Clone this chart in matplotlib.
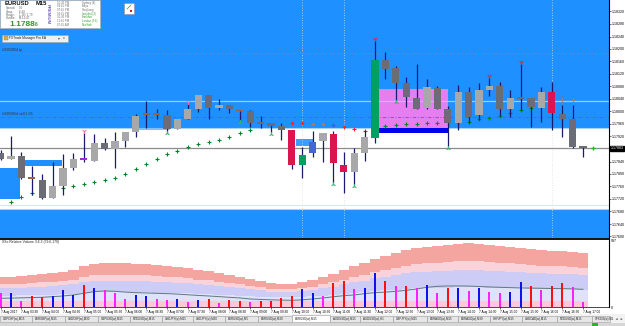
#!/usr/bin/env python3
"""MT4-style EURUSD M15 chart with zones, SAR dots and a relative volume pane."""

import matplotlib

matplotlib.use("Agg")
import matplotlib.pyplot as plt
import numpy as np
from matplotlib.patches import Rectangle

plt.rcParams["font.family"] = ["Liberation Sans", "DejaVu Sans"]

W, H = 625, 326

# ---- EURUSD M15 bars ----
OPEN = [1.17867, 1.17848, 1.17858, 1.17790, 1.17781, 1.17723, 1.17762, 1.17819, 1.17848, 1.17842,
        1.17899, 1.17880, 1.17906, 1.17934, 1.17992, 1.17992, 1.17989, 1.17944, 1.17976, 1.18008,
        1.18053, 1.18011, 1.18021, 1.18002, 1.18002, 1.17966, 1.17963, 1.17954, 1.17941, 1.17829,
        1.17867, 1.17906, 1.17928, 1.17829, 1.17806, 1.17867, 1.17915, 1.18165, 1.18139, 1.18091,
        1.18043, 1.18011, 1.18075, 1.18008, 1.17963, 1.18062, 1.17989, 1.18069, 1.18082, 1.18008,
        1.18043, 1.18043, 1.18011, 1.18062, 1.17992, 1.17976, 1.17886]
HIGH = [1.17877, 1.17922, 1.17870, 1.17826, 1.17800, 1.17838, 1.17864, 1.17867, 1.17934, 1.17928,
        1.17915, 1.17934, 1.17934, 1.17992, 1.18034, 1.18008, 1.18005, 1.17976, 1.18027, 1.18053,
        1.18053, 1.18040, 1.18021, 1.18002, 1.18005, 1.17986, 1.17963, 1.17963, 1.17941, 1.17886,
        1.17938, 1.17931, 1.17938, 1.17870, 1.17883, 1.17941, 1.18229, 1.18190, 1.18146, 1.18110,
        1.18152, 1.18104, 1.18082, 1.18018, 1.18085, 1.18078, 1.18091, 1.18110, 1.18094, 1.18069,
        1.18155, 1.18043, 1.18078, 1.18094, 1.18021, 1.18021, 1.17886]
LOW = [1.17845, 1.17848, 1.17784, 1.17733, 1.17720, 1.17723, 1.17733, 1.17813, 1.17838, 1.17842,
       1.17877, 1.17819, 1.17886, 1.17918, 1.17947, 1.17976, 1.17931, 1.17944, 1.17976, 1.17998,
       1.17976, 1.18005, 1.17995, 1.17966, 1.17950, 1.17947, 1.17931, 1.17909, 1.17816, 1.17787,
       1.17854, 1.17838, 1.17771, 1.17739, 1.17765, 1.17842, 1.17899, 1.18104, 1.18030, 1.18014,
       1.18008, 1.18008, 1.18008, 1.17886, 1.17941, 1.17963, 1.17973, 1.18050, 1.17986, 1.17982,
       1.18005, 1.17950, 1.17966, 1.17941, 1.17918, 1.17883, 1.17854]
CLOSE = [1.17848, 1.17858, 1.17787, 1.17784, 1.17723, 1.17762, 1.17819, 1.17848, 1.17846, 1.17899,
         1.17880, 1.17906, 1.17934, 1.17986, 1.17990, 1.17990, 1.17944, 1.17976, 1.18008, 1.18053,
         1.18011, 1.18021, 1.18008, 1.18000, 1.17963, 1.17960, 1.17954, 1.17941, 1.17829, 1.17861,
         1.17902, 1.17931, 1.17835, 1.17806, 1.17867, 1.17918, 1.18165, 1.18136, 1.18091, 1.18046,
         1.18008, 1.18078, 1.18008, 1.17963, 1.18062, 1.17982, 1.18069, 1.18082, 1.18008, 1.18043,
         1.18041, 1.18014, 1.18062, 1.17995, 1.17976, 1.17886, 1.17883]
# D dark, L light, N brown doji, P purple doji, R red, G green, B blue
KIND = "DLDNDLLLPL" "DLLLNNDLLL" "DLDNDDDDRG" "BLRRLLGDDD" "DLDDLDLLDL" "DDLRDDD"

SAR_LOW = [None, 1.17710, 1.17726, 1.17739, None, None, 1.17755, 1.17762, 1.17768, 1.17774,
           1.17781, 1.17787, 1.17800, 1.17816, 1.17832, 1.17848, 1.17864, 1.17874, 1.17886, 1.17896,
           1.17902, 1.17909, 1.17918, 1.17931, 1.17941, None, None, None, None, None,
           None, None, None, None, None, None, None, 1.17954, 1.17957, 1.17960,
           1.17960, 1.17963, 1.17963, None, 1.17966, 1.17966, 1.17976, 1.17979, 1.17986, 1.17995,
           1.18005, 1.18011, None, None, None, None, None]
SAR_HIGH = ([None] * 28
            + [1.17963, 1.17963, 1.17960, 1.17960, 1.17957, 1.17950, 1.17944, 1.17938]
            + [None] * 18 + [1.18037, 1.18037, None])
SAR_HIGH_GRAY = [30, 31, 54, 55]

TOP_ARROW_BARS = [8, 18, 36, 47, 50]
TOP_ARROW_PRICES = [1.17938, 1.18030, 1.18232, 1.18114, 1.18158]
TOP_ARROW_COLORS = ["#ff6fb0", "#ff6fb0", "#e8203c", "#e8203c", "#e8203c"]
BOTTOM_ARROW_BARS = [16, 23, 26, 32, 34, 38, 43]
BOTTOM_ARROW_PRICES = [1.17931, 1.17966, 1.17928, 1.17768, 1.17762, 1.18030, 1.17883]

# zones: bar from, bar to, price low, price high
ZONE_BARS = [(-1, 1.86), (1.86, 5.9), (13.1, 16.3), (28.4, 30.05), (36.4, 43.0), (36.4, 43.0)]
ZONE_PRICES = [(1.17720, 1.17819), (1.17826, 1.17845), (1.17941, 1.17947),
               (1.17890, 1.17912), (1.17947, 1.18072), (1.17931, 1.17947)]
ZONE_COLORS = ["#1e90ff", "#1e90ff", "#7ec0ff", "#3c9cff", "#e67ef0", "#0000f0"]
UPPER_ZONE_FLOOR = 1.17947
LOWER_ZONE_CEIL = 1.17688

TP_LEVEL = 1.18187
SELL_LEVEL = 1.17982
LIGHT_LEVEL = 1.18034
LOWER_LIGHT_LEVEL = 1.17701
LAST_PRICE = 1.17883
SEPARATOR_BARS = [29, 33, 53]

PRICE_TICKS = [1.18320, 1.18280, 1.18240, 1.18200, 1.18160, 1.18120, 1.18080, 1.18040, 1.18000,
               1.17960, 1.17920, 1.17840, 1.17800, 1.17760, 1.17720, 1.17680, 1.17640, 1.17600]
PRICE_MIN, PRICE_MAX = 1.175968, 1.183568

# ---- relative volume pane ----
VOLUME = [215, 215, 99, 174, 159, 174, 260, 185, 335, 294,
          260, 210, 125, 185, 174, 125, 110, 125, 80, 110,
          125, 65, 110, 99, 84, 99, 90, 135, 170, 270,
          210, 170, 360, 399, 270, 285, 519, 395, 320, 320,
          294, 335, 210, 285, 285, 245, 285, 234, 210, 234,
          375, 320, 260, 320, 360, 300, 84]
VOL_KIND = "MBMRRBBBRB" "MMMBBMMBMB" "RMRRMRRRRB" "BMRRMBBRMR" "MBMRBMBMMB" "BRMRRMM"
VOL_MA = [135, 138, 142, 146, 150, 159, 170, 185, 210, 235,
          245, 240, 228, 220, 215, 210, 205, 198, 188, 178,
          170, 160, 150, 140, 125, 118, 112, 108, 105, 112,
          125, 140, 158, 175, 185, 205, 220, 228, 240, 255,
          275, 300, 315, 320, 320, 318, 312, 305, 300, 295,
          290, 288, 285, 282, 280, 276, 270]
BAND_TOP = [455, 455, 470, 485, 500, 515, 530, 560, 620, 650,
            665, 665, 665, 650, 650, 635, 620, 605, 590, 560,
            545, 515, 485, 455, 425, 395, 365, 350, 350, 380,
            410, 455, 500, 560, 620, 665, 725, 770, 815, 860,
            890, 905, 920, 935, 950, 965, 950, 935, 920, 905,
            890, 875, 860, 845, 845, 830, 815]
BAND_PINK = [343, 343, 353, 364, 374, 385, 395, 416, 458, 479,
             490, 490, 490, 479, 479, 469, 458, 448, 437, 416,
             406, 385, 364, 343, 322, 301, 280, 269, 269, 290,
             311, 343, 374, 416, 458, 490, 532, 563, 595, 626,
             647, 658, 668, 679, 689, 700, 689, 679, 668, 658,
             647, 637, 626, 616, 616, 605, 595]
BAND_LAVENDER = [286, 286, 295, 303, 311, 319, 328, 344, 377, 394,
                 402, 402, 402, 394, 394, 385, 377, 369, 361, 344,
                 336, 319, 303, 286, 270, 253, 237, 229, 229, 245,
                 262, 286, 311, 344, 377, 402, 435, 460, 484, 509,
                 526, 534, 542, 550, 559, 567, 559, 550, 542, 534,
                 526, 517, 509, 501, 501, 493, 484]
BAND_PALE = [174, 174, 178, 181, 185, 189, 193, 200, 215, 223,
             226, 226, 226, 223, 223, 219, 215, 211, 208, 200,
             196, 189, 181, 174, 166, 159, 151, 148, 148, 155,
             163, 174, 185, 200, 215, 226, 241, 253, 264, 275,
             283, 286, 290, 294, 298, 301, 298, 294, 290, 286,
             283, 279, 275, 271, 271, 268, 264]
BAND_FLOOR = 90
VOL_MAX = 1024.5

TIME_LABELS = ["7 Aug 2017", "7 Aug 03:30", "7 Aug 04:00", "7 Aug 04:30", "7 Aug 05:00",
               "7 Aug 05:30", "7 Aug 06:00", "7 Aug 06:30", "7 Aug 07:00", "7 Aug 07:30",
               "7 Aug 08:00", "7 Aug 08:30", "7 Aug 09:00", "7 Aug 09:30", "7 Aug 10:00",
               "7 Aug 10:30", "7 Aug 11:00", "7 Aug 11:30", "7 Aug 12:00", "7 Aug 12:30",
               "7 Aug 13:00", "7 Aug 13:30", "7 Aug 14:00", "7 Aug 14:30", "7 Aug 15:00",
               "7 Aug 15:30", "7 Aug 16:00", "7 Aug 16:30", "7 Aug 17:00"]

TAB_LABELS = ["GBPCHF(w),M15", "EURGBP(w),M15", "USDCHF(w),M30", "GBPUSD(w),M15",
              "NZDUSD(w),M15", "USDJPY(w),M15", "USDJPY(w),M30", "EURUSD(w),M5",
              "EURUSD(w),M30", "EURUSD(w),M15", "AUDUSD(w),M15", "AUDUSD(w),H1",
              "GBPJPY(w),M15", "EURAUD(w),M15", "EURAUD(w),M30", "CHFJPY(w),M15",
              "USDCAD(w),M15", "NZDUSD(w),M15", "SPX500(w),M1"]
TAB_EDGES = [0, 32, 65, 98, 130, 162, 193, 225, 258, 292, 330, 360, 393, 427, 458, 490,
             522, 557, 592, 610]
ACTIVE_TAB = 9

INFO_NAMES = ["Spread:", "Swap:", "Range:", "Candle:"]
INFO_VALUES = ["0.8", "-6.44", "1.18 / 1.79", "00:12:47"]
SESSION_TIMES = ["10:45 PM", "08:45 PM", "07:45 PM", "03:45 PM", "01:45 PM", "12:45 PM", "07:45 AM"]
SESSION_NAMES = ["Sydney (4)", "Tokyo", "Hongkong", "Istanbul (3)", "Frankfurt", "London (3:1)", "NewYork"]
SESSION_OPEN = [False, False, False, True, True, True, True]

BODY_COLORS = {"D": "#6c6c76", "L": "#a8a8a8", "N": "#a0603a", "P": "#9b30d0",
               "R": "#dc1450", "G": "#00a064", "B": "#4464d8"}
VOL_COLORS = {"R": "#ff1010", "B": "#1010f0", "M": "#ff20ff"}
ZONE_BLUE = "#1e90ff"
WICK = "#1a1a70"
BAR_PX = 10.4
BAR0_PX = 0.6
CHART_RIGHT = 609


def px_rect(x0, y0, x1, y1):
    return [x0 / W, 1 - y1 / H, (x1 - x0) / W, (y1 - y0) / H]


fig = plt.figure(figsize=(W / 100, H / 100), dpi=100, facecolor="white")
xlim = (-BAR0_PX / BAR_PX, (CHART_RIGHT - BAR0_PX) / BAR_PX)
idx = np.arange(len(OPEN))

# ---------------- price pane ----------------
ax = fig.add_axes(px_rect(0, 0, CHART_RIGHT, 237.5))
ax.set_xlim(*xlim)
ax.set_ylim(PRICE_MIN, PRICE_MAX)
ax.set_facecolor("white")
ax.axhspan(UPPER_ZONE_FLOOR, PRICE_MAX + 0.001, color=ZONE_BLUE, zorder=0, lw=0)
ax.axhline(UPPER_ZONE_FLOOR, color="#a8d2ff", lw=0.8, zorder=0.5)
ax.axhspan(PRICE_MIN - 0.001, LOWER_ZONE_CEIL, color=ZONE_BLUE, zorder=0, lw=0)
ax.axhline(LOWER_ZONE_CEIL, color="#a8d2ff", lw=0.8, zorder=0.5)
ax.axhline(LOWER_LIGHT_LEVEL, color="#d6e6f6", lw=0.8, zorder=0.5)
for (b0, b1), (p0, p1), col in zip(ZONE_BARS, ZONE_PRICES, ZONE_COLORS):
    ax.add_patch(Rectangle((b0, p0), b1 - b0, p1 - p0, fc=col, ec="none", zorder=1))

ax.axhline(LIGHT_LEVEL, color="#9ccdff", lw=0.9, zorder=1.5)
ax.axhline(SELL_LEVEL, color="#2e8b57", lw=0.6, ls=(0, (4, 2, 1, 2)), zorder=1.5)
ax.axhline(TP_LEVEL, color="#a07878", lw=0.6, ls=(0, (4, 2, 1, 2)), zorder=1.5)
ax.axhline(LAST_PRICE, color="#8c8c8c", lw=0.9, zorder=1.5)
for b in SEPARATOR_BARS:
    ax.axvline(b, color="#dcdcdc", lw=0.6, ls=(0, (1, 2)), zorder=1.4)

ytf = ax.get_yaxis_transform()
ax.text(0.004, TP_LEVEL + 0.00004, "#3393954 tp", transform=ytf, fontsize=2.6,
        color="#303040", va="bottom", zorder=6)
ax.text(0.004, SELL_LEVEL + 0.00004, "#3393954 sell 1.05", transform=ytf, fontsize=2.6,
        color="#303040", va="bottom", zorder=6)

sar_low = np.array(SAR_LOW, dtype=float)
ax.plot(idx, sar_low, ls="none", marker="+", ms=2.6, mew=0.8, color="#00862a", zorder=2)
sar_high = np.array(SAR_HIGH, dtype=float)
high_cols = ["#a08070" if i in SAR_HIGH_GRAY else "#ff2020" for i in idx]
for i in idx:
    if not np.isnan(sar_high[i]):
        ax.plot(i, sar_high[i], marker="+", ms=2.6, mew=0.8, color=high_cols[i], zorder=2)

o, c = np.array(OPEN), np.array(CLOSE)
ax.vlines(idx, LOW, HIGH, color=WICK, lw=0.9, zorder=3)
bottoms = np.minimum(o, c)
heights = np.maximum(np.abs(c - o), 0.00005)
ax.bar(idx, heights, bottom=bottoms, width=0.7,
       color=[BODY_COLORS[k] for k in KIND], edgecolor="none", zorder=4)

for b, p, col in zip(TOP_ARROW_BARS, TOP_ARROW_PRICES, TOP_ARROW_COLORS):
    ax.plot(b, p, marker="1", ms=3.5, mew=0.8, color=col, zorder=5)
ax.plot(BOTTOM_ARROW_BARS, BOTTOM_ARROW_PRICES, ls="none", marker="2", ms=3.5, mew=0.8,
        color="#3cb371", zorder=5)
ax.plot(len(OPEN), LAST_PRICE, marker="+", ms=3, mew=0.9, color="#10c010", zorder=5)

for side in ("left", "top", "bottom"):
    ax.spines[side].set_visible(False)
ax.spines["right"].set_color("black")
ax.spines["right"].set_linewidth(0.8)
ax.set_xticks([])
ax.yaxis.tick_right()
ax.set_yticks(PRICE_TICKS)
ax.set_yticklabels([f"{t:.5f}" for t in PRICE_TICKS])
ax.tick_params(axis="y", labelsize=2.6, length=1.2, width=0.4, pad=0.8)
ax.text(1.003, LAST_PRICE, f"{LAST_PRICE:.5f}", transform=ytf, fontsize=2.6, color="white",
        va="center", ha="left", clip_on=False, zorder=7,
        bbox=dict(boxstyle="square,pad=0.15", fc="black", ec="black"))

# ---------------- relative volume pane ----------------
av = fig.add_axes(px_rect(0, 239, CHART_RIGHT, 307.3))
av.set_xlim(*xlim)
av.set_ylim(0, VOL_MAX)
edges = np.arange(len(OPEN) + 1) - 0.5
floor = np.full(len(OPEN), BAND_FLOOR)
av.stairs(BAND_TOP, edges, baseline=BAND_PINK, fill=True, color="#f4a5a0", zorder=1)
av.stairs(BAND_PINK, edges, baseline=BAND_LAVENDER, fill=True, color="#fad2da", zorder=1)
av.stairs(BAND_LAVENDER, edges, baseline=BAND_PALE, fill=True, color="#ccccf6", zorder=1)
av.stairs(BAND_PALE, edges, baseline=floor, fill=True, color="#dfe2fa", zorder=1)
av.stairs(floor, edges, baseline=0, fill=True, color="#fbc9da", zorder=1)
av.plot(idx, VOL_MA, color="#5f7a7a", lw=0.7, zorder=2)
av.bar(idx, VOLUME, width=0.2, color=[VOL_COLORS[k] for k in VOL_KIND], zorder=3)

av.text(0.004, 0.985, "XSo Relative Volume 3.6.2 (79.6,179)", transform=av.transAxes,
        fontsize=2.4, color="#202020", va="top")
av.spines["left"].set_visible(False)
av.spines["top"].set_linewidth(1.3)
av.spines["right"].set_linewidth(0.8)
av.spines["bottom"].set_linewidth(0.5)
av.yaxis.tick_right()
av.set_yticks([0, 997])
av.set_yticklabels(["0", "997"])
av.tick_params(axis="y", labelsize=2.6, length=0, pad=1.5)
av.set_xticks(idx[::2])
av.set_xticklabels(TIME_LABELS, ha="left")
av.tick_params(axis="x", labelsize=2.3, length=1.5, width=0.4, pad=0.8)

# ---------------- terminal chrome ----------------
ov = fig.add_axes([0, 0, 1, 1], zorder=10)
ov.set_xlim(0, W)
ov.set_ylim(H, 0)
ov.axis("off")
ov.patch.set_alpha(0)

ov.add_patch(Rectangle((0, 0), 100, 28, fc="white", ec="#b0b0b0", lw=0.5))
ov.text(5, 3.6, "EURUSD", fontsize=4.2, weight="bold", va="center", color="#101010")
ov.text(36, 3.6, "M15", fontsize=4.2, weight="bold", va="center", color="#101010")
for k, (name, val) in enumerate(zip(INFO_NAMES, INFO_VALUES)):
    yy = 8.2 + 3.4 * k
    ov.text(6, yy, name, fontsize=2.1, va="center", color="#606060")
    ov.text(19, yy, val, fontsize=2.1, va="center", color="#606060")
ov.text(9, 24.2, "1.1788", fontsize=6, weight="bold", va="center", color="#2e9a2e")
ov.text(35, 24.8, "6", fontsize=3.5, weight="bold", va="center", color="#2e9a2e")
ov.text(48, 14, "PREMIUM", fontsize=3.2, rotation=270, ha="center", va="center",
        color="#6a5acd", weight="bold")
for k, (t, name, is_open) in enumerate(zip(SESSION_TIMES, SESSION_NAMES, SESSION_OPEN)):
    yy = 2.6 + 3.7 * k
    col = "#2e9a2e" if is_open else "#707070"
    ov.text(57, yy, t, fontsize=2.0, va="center", color="#707070")
    ov.text(82, yy, name, fontsize=2.0, va="center", color=col)

ov.add_patch(Rectangle((124, 3), 10, 11, fc="white", ec="#909090", lw=0.4))
ov.plot([127, 129, 131], [9, 7, 5], color="#30a030", lw=0.5)
ov.add_patch(Rectangle((129.5, 10), 2.5, 1.5, fc="#d02020", ec="none"))

ov.add_patch(Rectangle((2, 34.5), 66, 7, fc="#f0f0f0", ec="#a0a0a0", lw=0.4))
ov.add_patch(Rectangle((3.5, 36), 4, 4, fc="#d8b040", ec="#808080", lw=0.3))
ov.text(9, 38, "FXTrade Manager Pro EA", fontsize=2.3, va="center", color="#202020")
ov.text(58, 38, "\u25be", fontsize=2.6, va="center", color="#404040")
ov.text(63, 38, "x", fontsize=2.6, va="center", color="#404040")

ov.add_patch(Rectangle((0, 314), W, 8.5, fc="#f2f2f2", ec="none"))
for k, label in enumerate(TAB_LABELS):
    x0, x1 = TAB_EDGES[k], TAB_EDGES[k + 1]
    active = k == ACTIVE_TAB
    ov.add_patch(Rectangle((x0, 314.5 if active else 315.5), x1 - x0, 7 if active else 6,
                           fc="white" if active else "#e6e6e6", ec="#9a9a9a", lw=0.4))
    ov.text(x0 + 3, 318.6, label, fontsize=2.1, va="center", color="#202020", clip_on=True)
ov.text(614, 318.6, "\u25c4", fontsize=2.4, va="center", color="#404040")
ov.text(619.5, 318.6, "\u25ba", fontsize=2.4, va="center", color="#404040")
ov.add_patch(Rectangle((0, 322.5), W, 3.5, fc="#d6d6d6", ec="none"))
ov.add_patch(Rectangle((592, 323), 6, 2.5, fc="#30b030", ec="none"))

fig.savefig("out.png", dpi=100, facecolor="white")
